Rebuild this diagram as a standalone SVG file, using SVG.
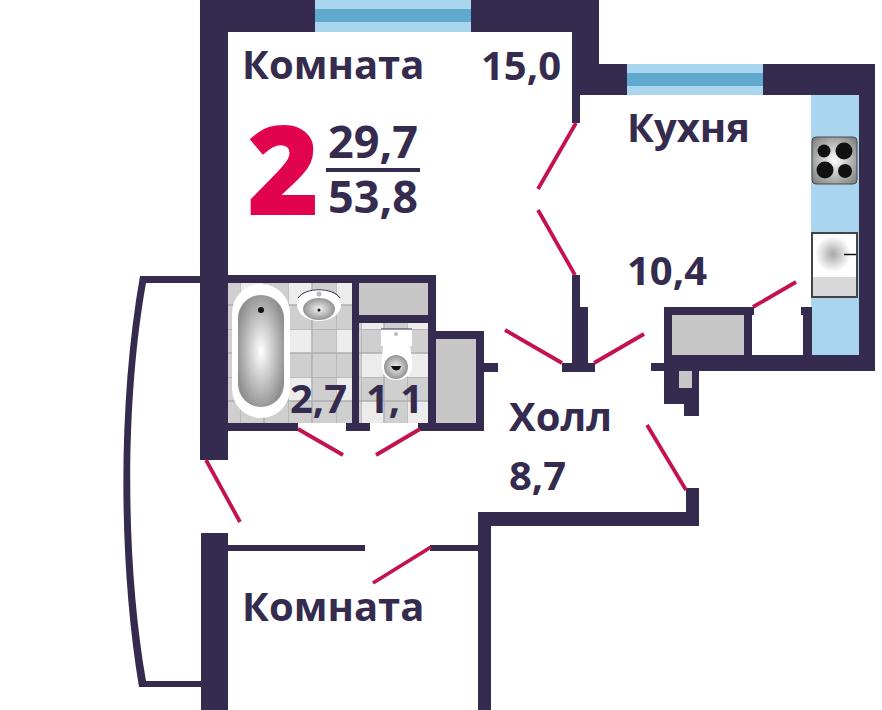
<svg xmlns="http://www.w3.org/2000/svg" width="882" height="710" viewBox="0 0 882 710">
<style>
.w{fill:#352b4e}
.g{fill:#c6c6c6}
.t{font-family:"Open Sans","Noto Sans",sans-serif;font-weight:700;fill:#352b4e;font-size:40px}
.f{font-size:45px}
.d{stroke:#c4124f;stroke-width:3.8;fill:none}
.lb{fill:#a9d6ee}
.db{fill:#5fa9cf}
</style>
<defs>
<pattern id="tile" x="288" y="281" width="48" height="48" patternUnits="userSpaceOnUse">
<rect width="48" height="48" fill="#cfcfcf"/>
<rect width="24" height="24" fill="#ececec"/>
<path d="M0 0H48M0 24H48M0 0V48M24 0V48" stroke="#aeaeae" stroke-width="1.4" fill="none"/>
</pattern>
<pattern id="tile2" x="361" y="281" width="46" height="48" patternUnits="userSpaceOnUse">
<rect width="46" height="48" fill="#cfcfcf"/>
<rect x="0" y="24" width="23" height="24" fill="#ececec"/>
<path d="M0 0H46M0 24H46M0 0V48M23 0V48" stroke="#aeaeae" stroke-width="1.4" fill="none"/>
</pattern>
<radialGradient id="bath" cx="50%" cy="50%" r="55%"><stop offset="0" stop-color="#fff"/><stop offset="1" stop-color="#8f8f8f"/></radialGradient>
<radialGradient id="bowl" cx="50%" cy="50%" r="55%"><stop offset="0" stop-color="#f2f2f2"/><stop offset="1" stop-color="#8a8a8a"/></radialGradient>
<radialGradient id="hob" cx="50%" cy="50%" r="65%"><stop offset="0" stop-color="#fff"/><stop offset="1" stop-color="#808080"/></radialGradient>
<radialGradient id="sink" cx="50%" cy="50%" r="50%"><stop offset="0" stop-color="#a8a8a8"/><stop offset="1" stop-color="#fff"/></radialGradient>
</defs>
<rect width="882" height="710" fill="#fff"/>
<g id="windows">
<rect class="lb" x="315" y="0" width="156" height="32"/><rect class="db" x="315" y="9" width="156" height="13"/>
<rect class="lb" x="627" y="64" width="136" height="31"/><rect class="db" x="627" y="73" width="136" height="13"/>
</g>
<g id="counter"><rect class="lb" x="811" y="95" width="48" height="260"/></g>
<g id="walls">
<path class="w" d="M200 0H315V32H228V275H436V331H484V363H498V372H484V431H418V423H428V283H359V315H428V323H359V423H370V431H346V423H352V283H228V423H298V431H228V460H200Z"/>
<path class="w" d="M471 0H599V64H627V95H580V123H572V32H471Z"/>
<path class="w" d="M763 64H875V371H699V404H699V416H684V404H664V371H651V363H664V307H754V315H752V355H803V315H801V307H812V355H859V95H763Z"/>
<path class="w" d="M572 275H580V307H588V363H595V372H562V363H572Z"/>
<path class="w" d="M201 533H228V545H365V551H228V710H201Z"/>
<path class="w" d="M430 545H478V512H686V488H699V526H491V710H478V551H430Z"/>
<path class="w" fill-rule="evenodd" d="M140 276H201V283H146C125 400 125 560 146 681H201V687H139C118 560 118 400 140 276Z"/>
</g>
<g id="closets">
<rect class="g" x="359" y="283" width="69" height="32"/>
<rect class="g" x="436" y="339" width="40" height="84"/>
<rect class="g" x="672" y="315" width="72" height="40"/>
<rect class="g" x="679" y="371" width="13" height="17"/>
</g>
<g id="bathroom">
<rect x="228" y="283" width="124" height="140" fill="url(#tile)"/>
<rect x="232" y="284" width="58" height="134" rx="29" fill="#fff"/>
<rect x="238" y="295" width="46" height="112" rx="23" fill="url(#bath)"/>
<circle cx="261" cy="310" r="3" fill="#111"/>
<ellipse cx="319" cy="305" rx="22" ry="16" fill="#fff"/>
<path d="M298 298C305 287 333 287 340 298" fill="none" stroke="#352b4e" stroke-width="1"/>
<ellipse cx="319" cy="309" rx="16" ry="11" fill="url(#bowl)"/>
<circle cx="319" cy="310" r="1.5" fill="#111"/>
<circle cx="319" cy="294" r="2.5" fill="#bbb"/>
</g>
<g id="wc">
<rect x="359" y="323" width="69" height="100" fill="url(#tile2)"/>
<rect x="381" y="329" width="31" height="17" fill="#fff"/>
<path d="M381 329H412" stroke="#352b4e" stroke-width="1"/>
<path d="M383 346H410C412 358 413 362 412 368C411 376 404 380 396 380C388 380 382 376 382 368C381 362 382 358 383 346Z" fill="#fff"/>
<circle cx="396" cy="367" r="12" fill="url(#bowl)"/>
<path d="M391 366H401C400 372 393 372 391 366Z" fill="#111"/>
<circle cx="396" cy="334" r="2" fill="#bbb"/>
</g>
<g id="hob-unit">
<rect x="812" y="137" width="45" height="47" rx="4" fill="url(#hob)" stroke="#4a4a4a" stroke-width="1"/>
<circle cx="824" cy="151" r="6.500" fill="#111"/><circle cx="844" cy="151" r="8.500" fill="#111"/>
<circle cx="825" cy="170" r="8.500" fill="#111"/><circle cx="845" cy="171" r="7" fill="#111"/>
</g>
<g id="sink-unit">
<rect x="812" y="233" width="45" height="64" fill="#fff" stroke="#444" stroke-width="2"/>
<rect x="813" y="277" width="43" height="19" fill="#d8d8d8"/>
<circle cx="833" cy="254" r="18" fill="url(#sink)"/>
<path d="M844 254.500H856" stroke="#111" stroke-width="1.500"/>
</g>
<g id="connectors">
<path class="d" d="M298 429L343 455M376 455L420 429M206 460L240 522M373 583L431 547M505 330L562 363M594 363L644 334M576 123L538 189M538 210L575 275M753 307L796 282M647 425L686 490"/>
</g>
<g id="labels">
<text class="t" x="242" y="79">Комната</text>
<text class="t" x="481" y="80">15,0</text>
<text class="t" x="627" y="142">Кухня</text>
<text class="t" x="627" y="285">10,4</text>
<text class="t" x="290" y="413">2,7</text>
<text class="t" x="366" y="413">1,1</text>
<text class="t" x="509" y="431">Холл</text>
<text class="t" x="509" y="490">8,7</text>
<text class="t" x="242" y="621">Комната</text>
<text x="247" y="215" font-family="'Open Sans',sans-serif" font-weight="800" font-size="124" fill="#e2034f">2</text>
<text class="t f" x="328" y="158">29,7</text>
<rect class="w" x="326" y="168" width="94" height="4"/>
<text class="t f" x="328" y="213">53,8</text>
</g>
</svg>
